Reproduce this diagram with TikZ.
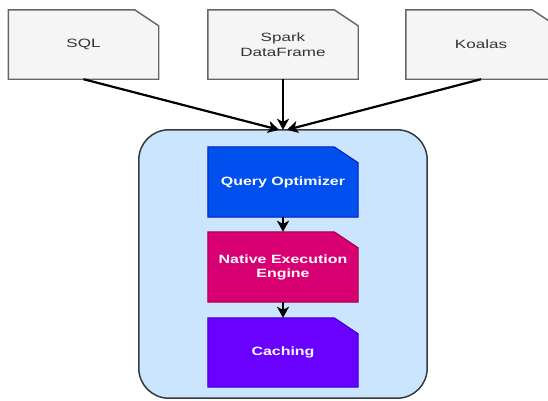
\documentclass[tikz,border=0pt]{standalone}
\usepackage{fontspec}
\usepackage{graphicx}
\setmainfont{Liberation Sans}
\usetikzlibrary{arrows.meta,backgrounds}
\definecolor{cardfill}{HTML}{F5F5F5}
\definecolor{carddraw}{HTML}{666666}
\definecolor{cardtext}{HTML}{333333}
\definecolor{contfill}{HTML}{CCE5FF}
\definecolor{contdraw}{HTML}{36393D}
\definecolor{qofill}{HTML}{0050EF}
\definecolor{qodraw}{HTML}{001DBC}
\definecolor{nefill}{HTML}{D80073}
\definecolor{nedraw}{HTML}{A50040}
\definecolor{cafill}{HTML}{6A00FF}
\definecolor{cadraw}{HTML}{3700CC}
\newcommand\outtext[1]{\scalebox{1.42}[1]{#1}}
\newcommand\intext[1]{\scalebox{1.33}[1]{\bfseries #1}}
\newcommand\cardpath[1]{(#1.south west) -- (#1.north west) -- ([xshift=-24pt]#1.north east) -- ([yshift=-16pt]#1.north east) -- (#1.south east) -- cycle}
\tikzset{
  cardbox/.style={inner sep=0pt, align=center, font=\fontsize{12}{15}\selectfont, text=cardtext, minimum width=150pt, minimum height=69pt},
  innerbox/.style={inner sep=0pt, align=center, font=\fontsize{12}{14}\selectfont, text=white, minimum width=150pt},
  outcard/.style={fill=cardfill, draw=carddraw, line width=1.4pt},
  conn/.style={line width=2.2pt, -{Stealth[length=11pt,width=12pt,inset=3pt]}},
}
\begin{document}
\begin{tikzpicture}[x=1pt,y=-1pt]
\useasboundingbox (0,0) rectangle (548,400);
\clip (0,0) rectangle (548,400);
% outer input cards
\node[cardbox] (sql) at (83.5,44.5) {\outtext{SQL}};
\node[cardbox] (spark) at (283,44.5) {\outtext{Spark}\\\outtext{DataFrame}};
\node[cardbox] (koalas) at (481,44.5) {\outtext{Koalas}};
% container
\node[minimum width=288pt, minimum height=268pt, inner sep=0pt] (cont) at (283,264) {};
% inner cards
\node[innerbox, minimum height=70pt] (qo) at (283,182) {\intext{Query Optimizer}};
\node[innerbox, minimum height=70pt] (ne) at (283,267) {\intext{Native Execution}\\\intext{Engine}};
\node[innerbox, minimum height=69pt] (ca) at (283,352.5) {\intext{Caching}};
\begin{scope}[on background layer]
  \fill[white] (0,0) rectangle (548,400);
  \draw[fill=contfill, draw=contdraw, line width=1.5pt, rounded corners=30pt] (cont.south west) rectangle (cont.north east);
  \draw[outcard] \cardpath{sql};
  \draw[outcard] \cardpath{spark};
  \draw[outcard] \cardpath{koalas};
  \draw[fill=qofill, draw=qodraw, line width=1pt] \cardpath{qo};
  \draw[fill=nefill, draw=nedraw, line width=1pt] \cardpath{ne};
  \draw[fill=cafill, draw=cadraw, line width=1pt] \cardpath{ca};
\end{scope}
\coordinate (t1) at ([xshift=-4pt]cont.north);
\coordinate (t2) at (cont.north);
\coordinate (t3) at ([xshift=4pt]cont.north);
\draw[conn] (sql.south) -- (t1);
\draw[conn] (spark.south) -- (t2);
\draw[conn] (koalas.south) -- (t3);
\draw[conn] (qo.south) -- (ne.north);
\draw[conn] (ne.south) -- (ca.north);
\end{tikzpicture}
\end{document}
